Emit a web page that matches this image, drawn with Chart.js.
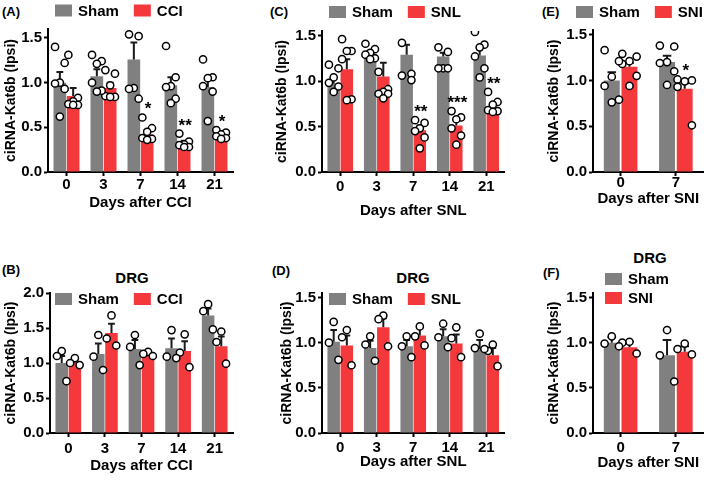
<!DOCTYPE html>
<html>
<head>
<meta charset="utf-8">
<script src="https://cdn.jsdelivr.net/npm/chart.js@4.4.1/dist/chart.umd.min.js"></script>
<style>
  body { margin: 0; background: #fff; width: 709px; height: 482px; position: relative; overflow: hidden;
         font-family: "Liberation Sans", Arial, Helvetica, sans-serif; }
  canvas { position: absolute; }
  .tag { position: absolute; font-weight: bold; font-size: 13px; line-height: 13px; color: #000; }
  .drg { position: absolute; font-weight: bold; font-size: 15px; line-height: 15px; color: #000; transform: translateX(-50%); }
</style>
</head>
<body>
<div class="tag" style="left:2px;top:5px">(A)</div>
<div class="tag" style="left:270px;top:5px">(C)</div>
<div class="tag" style="left:542px;top:5px">(E)</div>
<div class="tag" style="left:2px;top:263px">(B)</div>
<div class="tag" style="left:272px;top:264px">(D)</div>
<div class="tag" style="left:543px;top:266px">(F)</div>
<div class="drg" style="left:132px;top:270px">DRG</div>
<div class="drg" style="left:413px;top:270px">DRG</div>
<div class="drg" style="left:650px;top:250px">DRG</div>

<canvas id="cA" width="240" height="225" style="left:0;top:0"></canvas>
<canvas id="cC" width="240" height="225" style="left:270px;top:0"></canvas>
<canvas id="cE" width="169" height="225" style="left:540px;top:0"></canvas>
<canvas id="cB" width="240" height="242" style="left:0;top:240px"></canvas>
<canvas id="cD" width="240" height="242" style="left:270px;top:240px"></canvas>
<canvas id="cF" width="169" height="242" style="left:540px;top:240px"></canvas>

<script>
"use strict";

const DAYS5 = ['0', '3', '7', '14', '21'];
const DAYS2 = ['0', '7'];

// (A) ipsilateral, CCI
const aShamMean = [1.00, 1.07, 1.26, 0.97, 0.95];
const aShamSem  = [0.12, 0.08, 0.19, 0.09, 0.08];
const aShamPts  = [[1.40, 1.22, 1.00, 0.99, 0.93, 0.62], [1.31, 1.24, 1.21, 1.00, 0.91, 0.90],
                   [1.54, 1.52, 0.94, 0.93, 0.82], [1.41, 1.06, 0.96, 0.95, 0.82, 0.77],
                   [1.26, 1.06, 1.05, 0.96, 0.90, 0.57]];
const aCciMean  = [0.85, 0.94, 0.42, 0.32, 0.39];
const aCciSem   = [0.09, 0.06, 0.05, 0.03, 0.02];
const aCciPts   = [[1.31, 0.83, 0.79, 0.76, 0.75, 0.75], [1.14, 1.10, 0.97, 0.85, 0.84, 0.84],
                   [0.61, 0.49, 0.45, 0.38, 0.37, 0.36], [0.43, 0.34, 0.31, 0.30, 0.28, 0.28],
                   [0.47, 0.44, 0.42, 0.40, 0.38, 0.37]];
const aStars    = ['', '', '*', '**', '*'];

// (C) ipsilateral, SNL
const cShamMean = [0.97, 1.30, 1.29, 1.27, 1.28];
const cShamSem  = [0.07, 0.03, 0.11, 0.04, 0.07];
const cShamPts  = [[1.18, 1.14, 1.04, 0.98, 0.94, 0.88], [1.41, 1.35, 1.31, 1.29, 1.25, 1.24],
                   [1.42, 1.08, 1.06, 1.01], [1.37, 1.32, 1.14, 1.14, 1.14],
                   [1.54, 1.40, 1.37, 1.27, 1.14, 1.04]];
const cSnlMean  = [1.13, 1.05, 0.46, 0.51, 0.71];
const cSnlSem   = [0.11, 0.15, 0.05, 0.06, 0.04];
const cSnlPts   = [[1.46, 1.33, 1.33, 1.24, 0.80, 0.79], [1.10, 0.91, 0.88, 0.86, 0.86, 0.81],
                   [0.57, 0.54, 0.48, 0.45, 0.38, 0.26], [0.67, 0.60, 0.58, 0.48, 0.40, 0.30],
                   [0.88, 0.77, 0.74, 0.68, 0.67, 0.66]];
const cStars    = ['', '', '**', '***', '**'];

// (E) ipsilateral, SNI
const eShamMean = [1.00, 1.20];
const eShamSem  = [0.09, 0.07];
const eShamPts  = [[1.33, 1.21, 1.04, 0.94, 0.79, 0.76], [1.38, 1.37, 1.20, 1.19, 1.10, 0.95]];
const eSniMean  = [1.15, 0.91];
const eSniSem   = [0.04, 0.06];
const eSniPts   = [[1.29, 1.26, 1.21, 1.18, 1.05, 0.94], [1.01, 1.00, 0.99, 0.93, 0.51]];
const eStars    = ['', '*'];

// (B) DRG, CCI
const bShamMean = [1.00, 1.13, 1.20, 1.21, 1.68];
const bShamSem  = [0.10, 0.15, 0.13, 0.14, 0.10];
const bShamPts  = [[1.17, 1.10, 0.74], [1.40, 1.09, 0.90], [1.40, 1.23, 0.97], [1.47, 1.09, 1.07], [1.84, 1.74, 1.48]];
const bCciMean  = [1.01, 1.43, 1.13, 1.17, 1.24];
const bCciSem   = [0.03, 0.13, 0.02, 0.14, 0.14];
const bCciPts   = [[1.07, 1.00, 0.97], [1.68, 1.35, 1.25], [1.16, 1.13, 1.10], [1.41, 1.15, 0.94], [1.45, 1.30, 0.99]];

// (D) DRG, SNL
const dShamMean = [1.01, 0.94, 0.96, 1.07, 0.93];
const dShamSem  = [0.13, 0.08, 0.07, 0.08, 0.10];
const dShamPts  = [[1.23, 1.00, 0.81], [1.07, 0.98, 0.80], [1.07, 0.96, 0.84], [1.21, 1.06, 0.95], [1.10, 0.94, 0.93]];
const dSnlMean  = [0.97, 1.17, 1.08, 0.99, 0.86];
const dSnlSem   = [0.11, 0.10, 0.08, 0.10, 0.08];
const dSnlPts   = [[1.14, 1.06, 0.75], [1.30, 1.26, 0.96], [1.18, 1.07, 0.97], [1.17, 1.05, 0.84], [0.98, 0.91, 0.74]];

// (F) DRG, SNI
const fShamMean = [1.00, 0.86];
const fShamSem  = [0.06, 0.17];
const fShamPts  = [[1.07, 0.99, 0.96], [1.14, 0.86, 0.57]];
const fSniMean  = [0.95, 0.90];
const fSniSem   = [0.06, 0.06];
const fSniPts   = [[1.01, 1.00, 0.88], [0.99, 0.93, 0.87]];

const FONT = '"Liberation Sans", Arial, Helvetica, sans-serif';
const GRAY = '#808080';
const RED = '#f4393c';
const YTITLE = 'ciRNA-Kat6b (Ipsi)';

// horizontal spread of dots inside a bar, by group size
const SPREAD = {
    3: [0, -1, 1],
    4: [-1, 1, -1, 1],
    5: [-1, 1, 0, -1, 1],
    6: [-1, 1, 0, -1, 1, 0]
};

const errorBars = {
    id: 'errorBars',
    afterDatasetDraw(chart, args) {
        const ds = chart.data.datasets[args.index];
        if (!ds.sem) return;
        const ctx = chart.ctx;
        const y = chart.scales.y;
        ctx.save();
        ctx.strokeStyle = '#1a1a1a';
        ctx.lineWidth = 2;
        args.meta.data.forEach((bar, i) => {
            const top = y.getPixelForValue(ds.means[i] + ds.sem[i]);
            const cap = bar.width * 0.27;
            ctx.beginPath();
            ctx.moveTo(bar.x, bar.y);
            ctx.lineTo(bar.x, top);
            ctx.moveTo(bar.x - cap, top);
            ctx.lineTo(bar.x + cap, top);
            ctx.stroke();
        });
        ctx.restore();
    }
};

const starMarks = {
    id: 'starMarks',
    afterDatasetsDraw(chart) {
        const ctx = chart.ctx;
        const y = chart.scales.y;
        chart.data.datasets.forEach((ds, di) => {
            if (!ds.stars) return;
            const meta = chart.getDatasetMeta(di);
            ctx.save();
            ctx.font = 'bold 17px ' + FONT;
            ctx.fillStyle = '#000';
            ctx.textAlign = 'center';
            ctx.textBaseline = 'alphabetic';
            ds.stars.forEach((s, i) => {
                if (!s) return;
                const top = Math.max(...ds.pts[i], ds.means[i] + ds.sem[i]);
                ctx.fillText(s, meta.data[i].x + 1, y.getPixelForValue(top) - 3);
            });
            ctx.restore();
        });
    }
};

const boxLegend = {
    id: 'boxLegend',
    afterDraw(chart, args, opts) {
        const ctx = chart.ctx;
        ctx.save();
        ctx.font = 'bold 15px ' + FONT;
        ctx.textBaseline = 'middle';
        let x = opts.x, y = opts.y;
        chart.data.datasets.filter(d => d.type === 'bar').forEach(d => {
            ctx.fillStyle = d.backgroundColor;
            ctx.fillRect(x, y - 6, 17, 12);
            ctx.fillStyle = '#000';
            ctx.fillText(d.label, x + 23, y + 1);
            if (opts.vertical) {
                y += opts.step;
            } else {
                x += 23 + ctx.measureText(d.label).width + 15;
            }
        });
        ctx.restore();
    }
};

const buildPanel = (id, p) => {
    const n = p.labels.length;
    const catPct = n > 2 ? 0.72 : 0.64;
    const barPct = n > 2 ? 0.95 : 0.9;
    const spread = 0.13;
    const colors = [GRAY, RED];

    const bars = p.groups.map((g, k) => ({
        type: 'bar',
        label: g,
        data: p.means[k].map((v, i) => ({ x: i, y: v })),
        means: p.means[k],
        sem: p.sems[k],
        pts: p.pts[k],
        stars: k === 1 ? p.stars : null,
        backgroundColor: colors[k],
        borderWidth: 0,
        categoryPercentage: catPct,
        barPercentage: barPct,
        order: 2
    }));

    const dots = p.groups.map((g, k) => ({
        type: 'scatter',
        label: g + ' dots',
        data: p.pts[k].flatMap((arr, i) => arr.map((v, j) => ({
            x: i + (k === 0 ? -catPct / 4 : catPct / 4) + SPREAD[arr.length][j] * spread,
            y: v
        }))),
        pointRadius: 3.6,
        pointBackgroundColor: '#fff',
        pointBorderColor: '#000',
        pointBorderWidth: 1.5,
        order: 0
    }));

    const tickFont = { family: FONT, size: 15, weight: 'bold' };

    return new Chart(document.getElementById(id), {
        type: 'bar',
        data: { datasets: [...bars, ...dots] },
        options: {
            responsive: false,
            animation: false,
            events: [],
            layout: { padding: { top: p.padTop, right: p.padRight, left: 0, bottom: 0 } },
            plugins: {
                legend: { display: false },
                tooltip: { enabled: false },
                boxLegend: p.legend
            },
            scales: {
                x: {
                    type: 'linear',
                    min: -0.5,
                    max: n - 0.5,
                    offset: false,
                    grid: { offset: false, drawOnChartArea: false, tickLength: 4, tickWidth: 2, tickColor: '#000' },
                    border: { color: '#000', width: 2 },
                    ticks: {
                        color: '#000', font: tickFont,
                        padding: p.xTickPad, maxRotation: 0, autoSkip: false,
                        callback: v => p.labels[v]
                    },
                    afterBuildTicks: s => { s.ticks = p.labels.map((l, i) => ({ value: i })); },
                    title: {
                        display: true, text: p.xTitle, color: '#000',
                        font: { family: FONT, size: 15, weight: 'bold' },
                        padding: { top: 0, bottom: p.xTitlePB }
                    },
                    afterFit: s => { s.height = p.xH; }
                },
                y: {
                    min: 0,
                    max: p.yMax,
                    grid: { drawOnChartArea: false, tickLength: 4, tickWidth: 2, tickColor: '#000' },
                    border: { color: '#000', width: 2 },
                    ticks: {
                        stepSize: 0.5, includeBounds: false, color: '#000', font: tickFont, padding: 2,
                        callback: v => Number(v).toFixed(1)
                    },
                    title: {
                        display: true, text: YTITLE, color: '#000',
                        font: { family: FONT, size: 14, weight: 'bold' },
                        padding: { top: p.yTitlePT, bottom: 0 }
                    },
                    afterFit: s => { s.width = p.yW; }
                }
            }
        },
        plugins: [errorBars, starMarks, boxLegend]
    });
};

buildPanel('cA', {
    labels: DAYS5, groups: ['Sham', 'CCI'],
    means: [aShamMean, aCciMean], sems: [aShamSem, aCciSem], pts: [aShamPts, aCciPts], stars: aStars,
    yMax: 1.6, xTitle: 'Days after CCI',
    yW: 48, padTop: 29, padRight: 7, xH: 53, xTickPad: 0, xTitlePB: 13, yTitlePT: 2.6,
    legend: { x: 55, y: 10.5 }
});

buildPanel('cC', {
    labels: DAYS5, groups: ['Sham', 'SNL'],
    means: [cShamMean, cSnlMean], sems: [cShamSem, cSnlSem], pts: [cShamPts, cSnlPts], stars: cStars,
    yMax: 1.55, xTitle: 'Days after SNL',
    yW: 52, padTop: 31, padRight: 5, xH: 53, xTickPad: 2, xTitlePB: 5, yTitlePT: 4,
    legend: { x: 59, y: 12 }
});

buildPanel('cE', {
    labels: DAYS2, groups: ['Sham', 'SNI'],
    means: [eShamMean, eSniMean], sems: [eShamSem, eSniSem], pts: [eShamPts, eSniPts], stars: eStars,
    yMax: 1.55, xTitle: 'Days after SNI',
    yW: 53, padTop: 30, padRight: 2, xH: 53, xTickPad: -2, xTitlePB: 17, yTitlePT: 5.6,
    legend: { x: 36, y: 12 }
});

buildPanel('cB', {
    labels: DAYS5, groups: ['Sham', 'CCI'],
    means: [bShamMean, bCciMean], sems: [bShamSem, bCciSem], pts: [bShamPts, bCciPts], stars: null,
    yMax: 2.0, xTitle: 'Days after CCI',
    yW: 50, padTop: 53, padRight: 7, xH: 49, xTickPad: 3, xTitlePB: 7, yTitlePT: 2.6,
    legend: { x: 55, y: 59 }
});

buildPanel('cD', {
    labels: DAYS5, groups: ['Sham', 'SNL'],
    means: [dShamMean, dSnlMean], sems: [dShamSem, dSnlSem], pts: [dShamPts, dSnlPts], stars: null,
    yMax: 1.55, xTitle: 'Days after SNL',
    yW: 52, padTop: 53, padRight: 5, xH: 49, xTickPad: 2, xTitlePB: 11, yTitlePT: 9,
    legend: { x: 59, y: 59 }
});

buildPanel('cF', {
    labels: DAYS2, groups: ['Sham', 'SNI'],
    means: [fShamMean, fSniMean], sems: [fShamSem, fSniSem], pts: [fShamPts, fSniPts], stars: null,
    yMax: 1.55, xTitle: 'Days after SNI',
    yW: 53, padTop: 53, padRight: 2, xH: 49, xTickPad: 2, xTitlePB: 10, yTitlePT: 5.6,
    legend: { x: 65, y: 39, vertical: true, step: 19 }
});
</script>
</body>
</html>
